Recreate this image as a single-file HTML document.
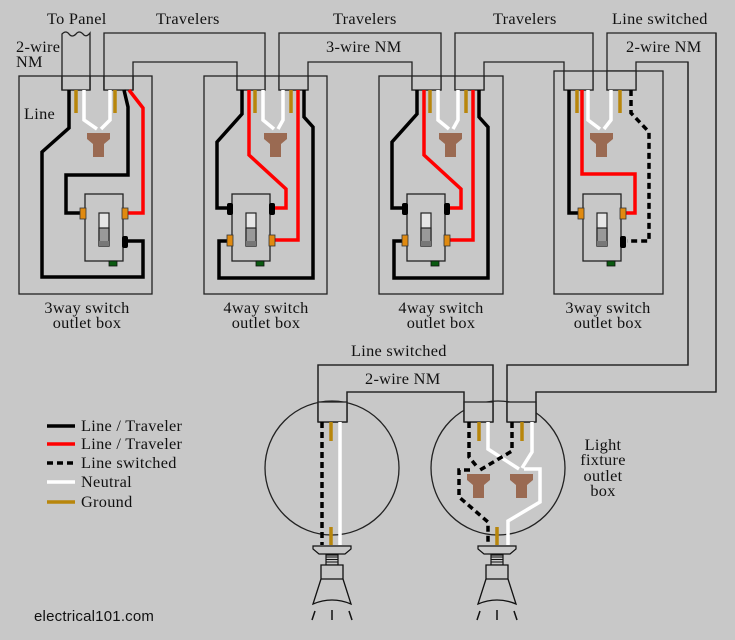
<!DOCTYPE html>
<html><head><meta charset="utf-8"><style>
html,body{margin:0;padding:0;background:#c8c8c8;}
svg{display:block;}
text{font-family:"Liberation Serif",serif;font-size:16.3px;letter-spacing:0.3px;fill:#111;}
</style></head><body>
<svg width="735" height="640" viewBox="0 0 735 640" xmlns="http://www.w3.org/2000/svg">
<defs>
<g id="nut"><path d="M0,0 H23 V6 L17,11 V24 H6 V11 L0,6 Z" fill="#9a6a52"/></g>
<g id="sw">
<rect x="0" y="0" width="38" height="67" fill="#c8c8c8" stroke="#222" stroke-width="1.3"/>
<rect x="14" y="19" width="10" height="33" fill="#e6e6e6" stroke="#222" stroke-width="1.2"/>
<rect x="14" y="34" width="10" height="18" fill="#999" stroke="#222" stroke-width="1.2"/>
<rect x="14" y="47" width="10" height="5" fill="#777"/>
<rect x="24" y="67" width="8" height="5" fill="#0a5a10" stroke="#111" stroke-width="0.8"/>
</g>
<g id="lamp">
<path d="M-19,0 H19 V3 L13,8 H-13 L-19,3 Z" fill="#c8c8c8" stroke="#111" stroke-width="1.2"/>
<rect x="-6" y="9" width="12" height="10" fill="#c8c8c8" stroke="#111" stroke-width="1.2"/>
<path d="M-6,11 H6 M-6,13.5 H6 M-6,16 H6" stroke="#111" stroke-width="1"/>
<path d="M-11,19 H11 V33 L19,58 Q0,50 -19,58 L-11,33 Z" fill="#c8c8c8" stroke="#111" stroke-width="1.3"/>
<path d="M-11,33 H11" stroke="#111" stroke-width="1.2"/>
<path d="M-17,65 L-20,74 M0,64 V74 M17,65 L20,74" stroke="#111" stroke-width="1.5"/>
</g>
</defs>

<g fill="none" stroke="#222" stroke-width="1.3">
<rect x="19" y="76" width="133" height="218"/>
<rect x="204" y="76" width="123" height="218"/>
<rect x="379" y="76" width="124" height="218"/>
<rect x="554" y="71" width="109" height="223"/>
<circle cx="332" cy="468" r="67"/>
<circle cx="498" cy="468" r="67"/>
</g>

<g fill="#c8c8c8" stroke="#222" stroke-width="1.3">
<path d="M62,90 V34 Q66,30 69,34 Q72,38 76,34 Q79,30 83,34 Q86,38 90,33 V90 Z"/>
<path d="M104,90 V33 H265 V90 H237 V62 H133 V90 Z"/>
<path d="M279,90 V33 H441 V90 H412 V62 H308 V90 Z"/>
<path d="M455,90 V33 H593 V90 H564 V62 H484 V90 Z"/>
<path d="M607,90 V33 H716 V392 H536 V422 H507 V365 H688 V62 H636 V90 Z" fill="none"/>
<path d="M318,422 V365 H493 V422 H464 V392 H347 V422 Z" fill="none"/>
<rect x="104" y="76" width="29" height="14"/><rect x="62" y="76" width="28" height="14"/>
<rect x="237" y="76" width="28" height="14"/><rect x="279" y="76" width="29" height="14"/>
<rect x="412" y="76" width="29" height="14"/><rect x="455" y="76" width="29" height="14"/>
<rect x="564" y="71" width="29" height="19"/><rect x="607" y="71" width="29" height="19"/>
<rect x="318" y="402" width="29" height="20"/><rect x="464" y="402" width="29" height="20"/><rect x="507" y="402" width="29" height="20"/>
</g>
<g fill="none" stroke="#222" stroke-width="1.3">
<path d="M104,90 V76 M133,90 V76 M62,90 V76 M90,90 V76"/>
<path d="M716,33 V392 H536 V422 M688,62 V365 H507 V422"/>
<path d="M318,422 V365 H493 V422 M347,422 V392 H464 V422"/>
<path d="M318,422 H347 M464,422 H493 M507,422 H536"/>
</g>

<g fill="none" stroke-width="3.5" stroke-linejoin="miter">
<path d="M76,90 V113 M115,90 V113" stroke="#b8860b"/>
<path d="M84,90 V120 L97,129 M110,90 V120 L101,129" stroke="#fff"/>
<path d="M69,90 V128 L42,152 V277 H143 V241 H128" stroke="#000"/>
<path d="M124,90 L128,107 V175 H66 V213 H80" stroke="#000"/>
<path d="M129,90 L143,108 V213 H128" stroke="#f00"/>
</g>
<use href="#nut" x="87" y="133"/>
<use href="#sw" x="85" y="194"/>
<rect x="80" y="208" width="6" height="11" fill="#e08a10" stroke="#333" stroke-width="0.8"/>
<rect x="122" y="208" width="6" height="11" fill="#e08a10" stroke="#333" stroke-width="0.8"/>
<rect x="122" y="236" width="6" height="12" rx="2" fill="#000"/>

<g id="b4">
<g fill="none" stroke-width="3.5">
<path d="M255,90 V113 M291,90 V113" stroke="#b8860b"/>
<path d="M263,90 V120 L274,129 M283,90 V120 L278,129" stroke="#fff"/>
<path d="M242,90 V114 L217,142 V208 H232" stroke="#000"/>
<path d="M304,90 V117 L313,127 V278 H219 V241 H232" stroke="#000"/>
<path d="M249,90 V155 L286,189 V208 H272" stroke="#f00"/>
<path d="M298,90 V240 H272" stroke="#f00"/>
</g>
<use href="#nut" x="264" y="133"/>
<use href="#sw" x="232" y="194"/>
<rect x="227" y="203" width="6" height="12" rx="2" fill="#000"/>
<rect x="269" y="203" width="6" height="12" rx="2" fill="#000"/>
<rect x="227" y="235" width="6" height="11" fill="#e08a10" stroke="#333" stroke-width="0.8"/>
<rect x="269" y="235" width="6" height="11" fill="#e08a10" stroke="#333" stroke-width="0.8"/>
</g>
<use href="#b4" x="175" y="0"/>

<g fill="none" stroke-width="3.5">
<path d="M577,90 V113 M620,90 V113" stroke="#b8860b"/>
<path d="M588,90 V120 L600,129 M611,90 V120 L604,129" stroke="#fff"/>
<path d="M569,90 V213 H583" stroke="#000"/>
<path d="M582,90 V174 H635 V213 H621" stroke="#f00"/>
<path d="M631,90 V113 L649,132 V241 H627" stroke="#000" stroke-dasharray="6,4"/>
</g>
<use href="#nut" x="590" y="133"/>
<use href="#sw" x="583" y="194"/>
<rect x="578" y="208" width="6" height="11" fill="#e08a10" stroke="#333" stroke-width="0.8"/>
<rect x="620" y="208" width="6" height="11" fill="#e08a10" stroke="#333" stroke-width="0.8"/>
<rect x="620" y="236" width="6" height="12" rx="2" fill="#000"/>

<g fill="none" stroke-width="3.5">
<path d="M331,422 V441 M331,527 V545" stroke="#b8860b"/>
<path d="M340,422 V545" stroke="#fff"/>
<path d="M322,422 V545" stroke="#000" stroke-dasharray="6,4"/>
</g>
<use href="#lamp" x="332" y="546"/>

<g fill="none" stroke-width="3.5">
<path d="M479,422 V441 M522,422 V441 M497,527 V545" stroke="#b8860b"/>
<path d="M488,422 V449 L519,469 M532,422 V452 L522,468 M524,469 H540 V502 L508,521 V545" stroke="#fff"/>
<path d="M469,422 V457 L478,468 M512,422 V451 L480,470 M470,470 H459 V497 L488,522 V545" stroke="#000" stroke-dasharray="6,4"/>
</g>
<use href="#nut" x="467" y="474"/>
<use href="#nut" x="510" y="474"/>
<use href="#lamp" x="497" y="546"/>

<g stroke-width="3.5">
<path d="M47,426 H75" stroke="#000"/>
<path d="M47,444 H75" stroke="#f00"/>
<path d="M47,463 H75" stroke="#000" stroke-dasharray="6,4"/>
<path d="M47,482 H75" stroke="#fff"/>
<path d="M47,502 H75" stroke="#b8860b"/>
</g>
<text x="81" y="431">Line / Traveler</text>
<text x="81" y="449">Line / Traveler</text>
<text x="81" y="468">Line switched</text>
<text x="81" y="487">Neutral</text>
<text x="81" y="507">Ground</text>
<text x="34" y="621" style="font-family:'Liberation Sans',sans-serif;font-size:15px;letter-spacing:0.2px">electrical101.com</text>

<text x="47" y="24">To Panel</text>
<text x="156" y="24">Travelers</text>
<text x="333" y="24">Travelers</text>
<text x="493" y="24">Travelers</text>
<text x="612" y="24">Line switched</text>
<text x="626" y="52">2-wire NM</text>
<text x="326" y="52">3-wire NM</text>
<text x="16" y="52">2-wire</text>
<text x="16" y="67">NM</text>
<text x="24" y="119">Line</text>
<g text-anchor="middle">
<text x="87" y="313">3way switch</text><text x="87" y="328">outlet box</text>
<text x="266" y="313">4way switch</text><text x="266" y="328">outlet box</text>
<text x="441" y="313">4way switch</text><text x="441" y="328">outlet box</text>
<text x="608" y="313">3way switch</text><text x="608" y="328">outlet box</text>
<text x="603" y="450">Light</text><text x="603" y="465">fixture</text><text x="603" y="481">outlet</text><text x="603" y="496">box</text>
</g>
<text x="351" y="356">Line switched</text>
<text x="365" y="384">2-wire NM</text>
</svg>
</body></html>
